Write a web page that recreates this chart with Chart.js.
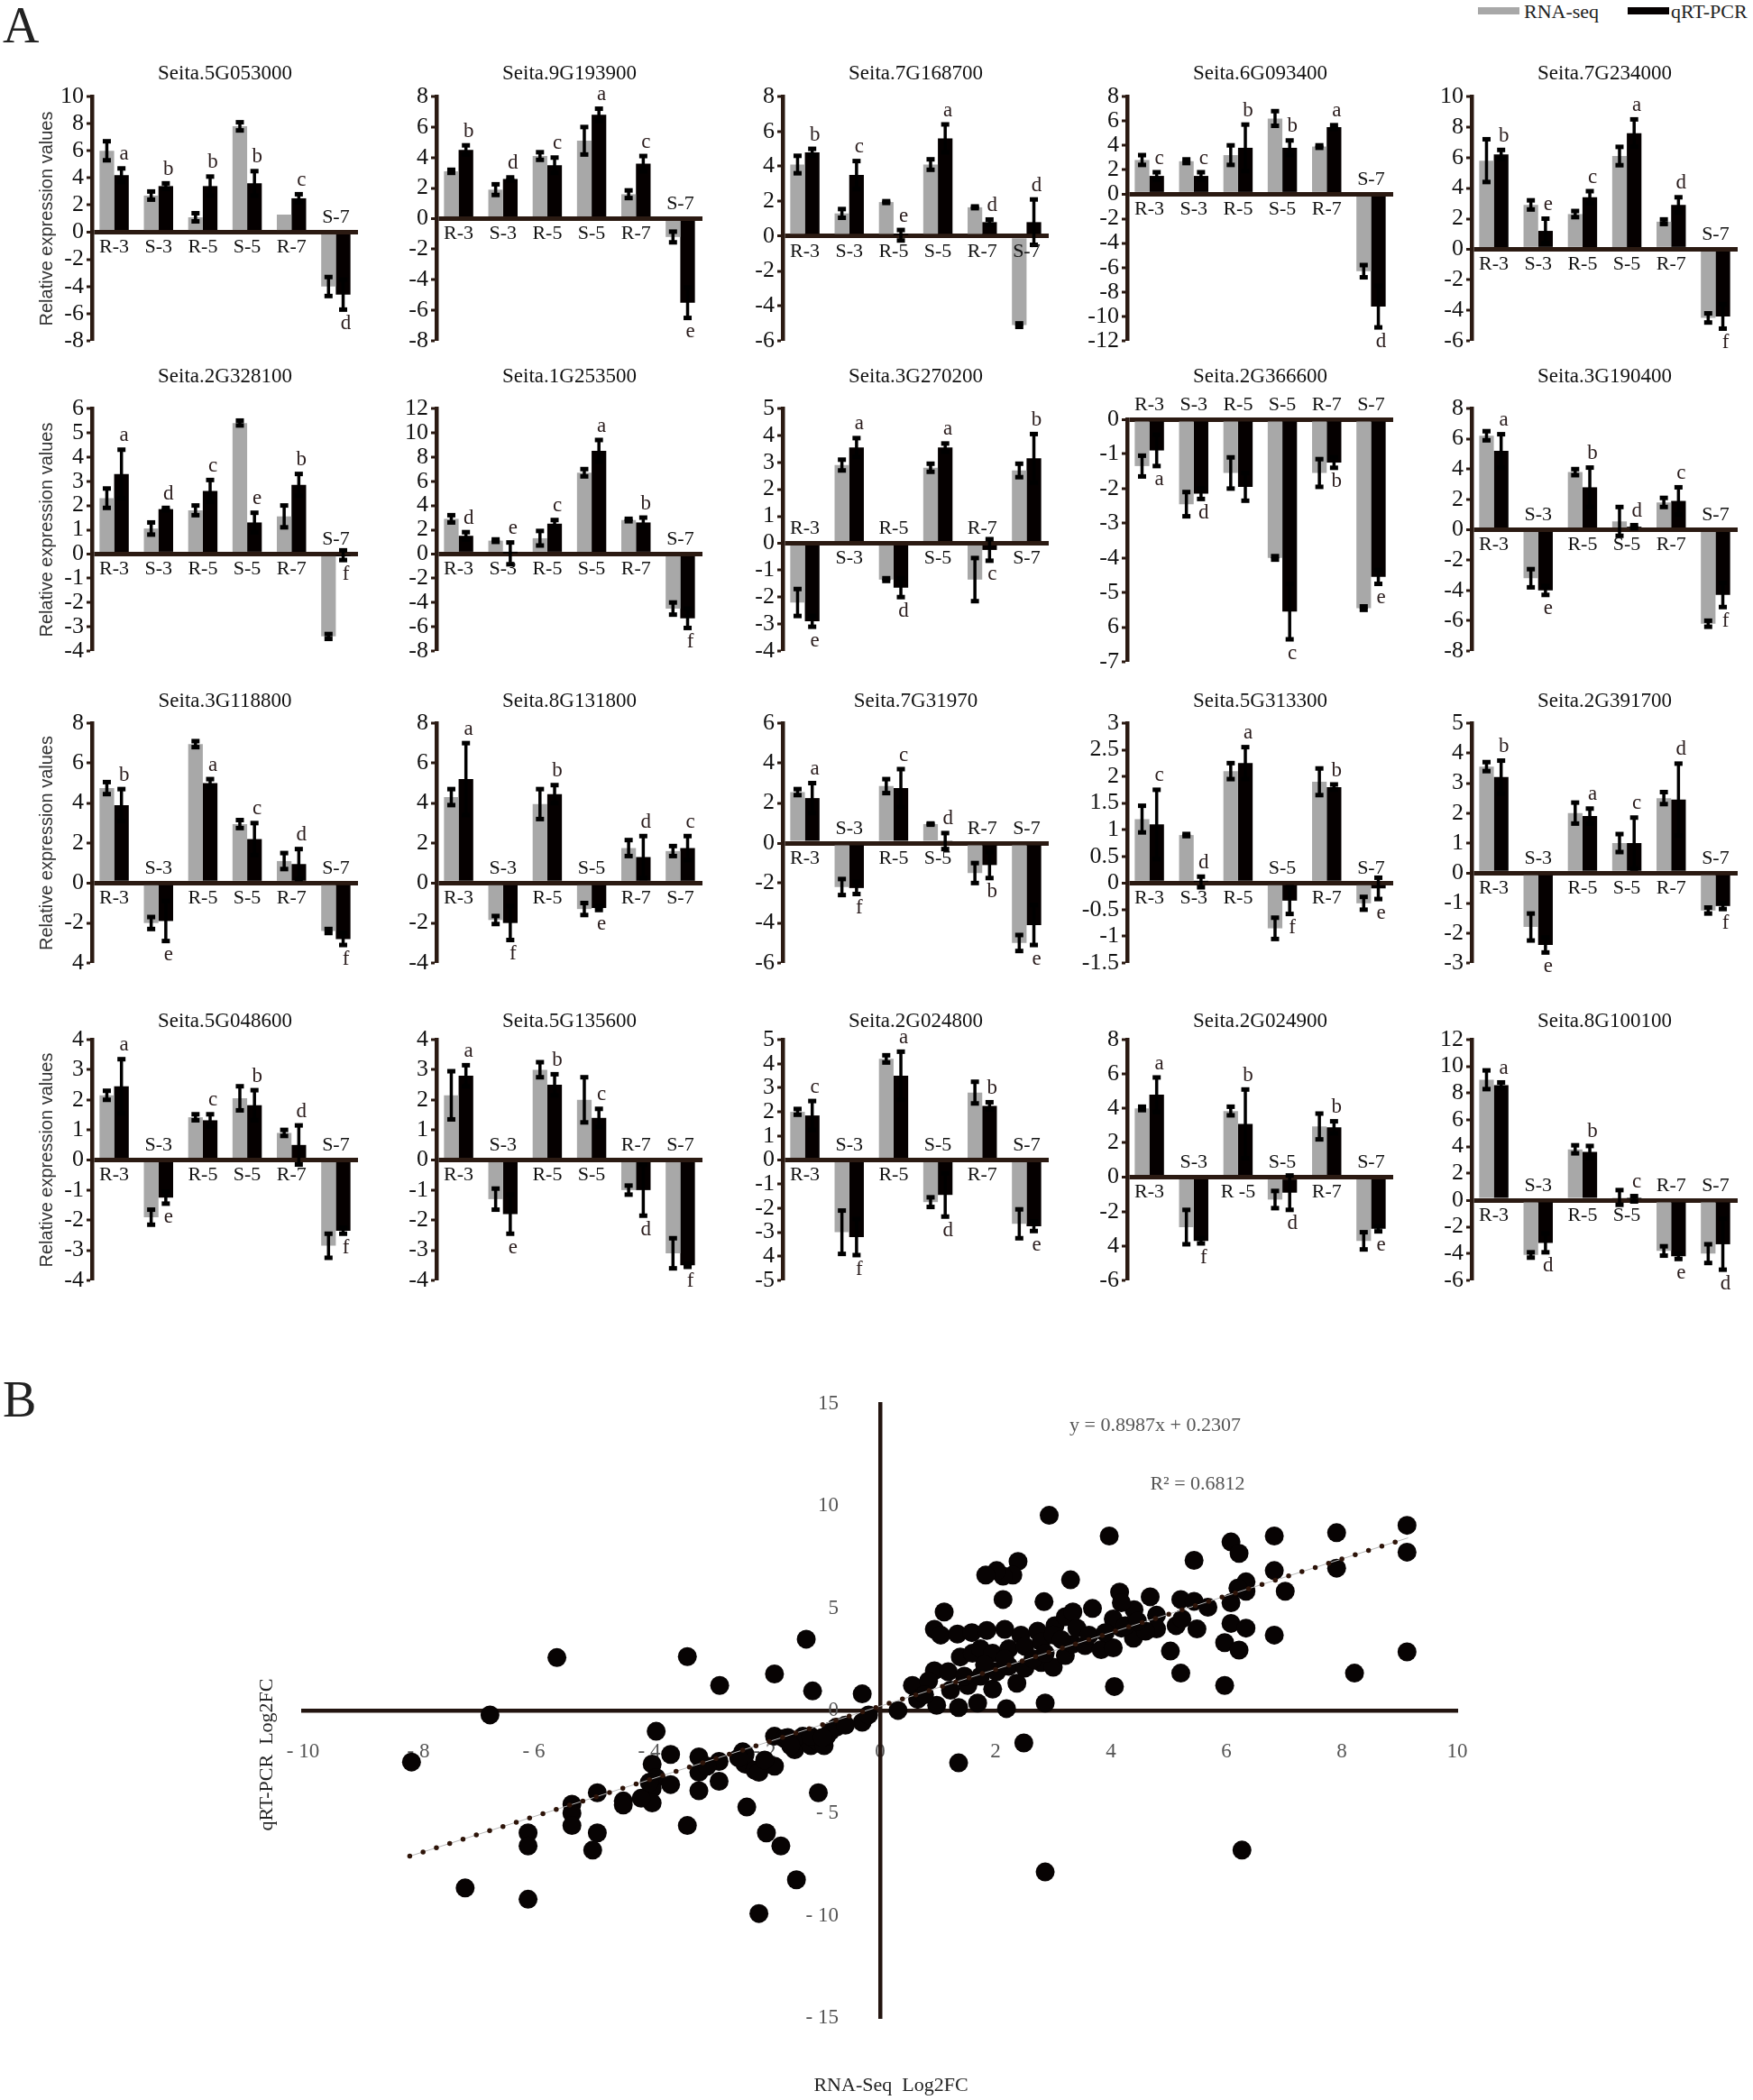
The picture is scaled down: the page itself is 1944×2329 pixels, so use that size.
<!DOCTYPE html>
<html>
<head>
<meta charset="utf-8">
<script src="https://cdn.jsdelivr.net/npm/chart.js@4.4.0/dist/chart.umd.min.js"></script>
<style>
  html, body { margin: 0; padding: 0; background: #fff; }
  #page { position: relative; width: 1944px; height: 2329px; overflow: hidden; background: #fff; }
  #page canvas { position: absolute; }
  .panel { position: absolute; font-family: "Liberation Serif", serif; color: #222; font-size: 56px; line-height: 1; }
  .leg { position: absolute; font-family: "Liberation Serif", serif; font-size: 22px; color: #222; line-height: 1; }
  .sw { position: absolute; height: 8px; width: 46px; }
</style>
</head>
<body>
<div id="page">
  <div class="panel" style="left:3px; top:0px;">A</div>
  <div class="panel" style="left:3px; top:1524px;">B</div>
  <div class="sw" style="left:1639px; top:8px; background:#a8a8a8;"></div>
  <div class="leg" style="left:1690px; top:2px;">RNA-seq</div>
  <div class="sw" style="left:1805px; top:8px; background:#050000;"></div>
  <div class="leg" style="left:1853px; top:2px;">qRT-PCR</div>
</div>
<script>
// ---- data: panel A ----
const categories = ['R-3', 'S-3', 'R-5', 'S-5', 'R-7', 'S-7'];

const genes = [
  'Seita.5G053000', 'Seita.9G193900', 'Seita.7G168700', 'Seita.6G093400', 'Seita.7G234000',
  'Seita.2G328100', 'Seita.1G253500', 'Seita.3G270200', 'Seita.2G366600', 'Seita.3G190400',
  'Seita.3G118800', 'Seita.8G131800', 'Seita.7G31970', 'Seita.5G313300', 'Seita.2G391700',
  'Seita.5G048600', 'Seita.5G135600', 'Seita.2G024800', 'Seita.2G024900', 'Seita.8G100100'
];

const rnaSeq = [
  [6.0, 2.7, 1.1, 7.8, 1.3, -4.0],
  [3.1, 1.9, 4.1, 5.1, 1.6, -1.2],
  [4.1, 1.3, 1.95, 4.1, 1.65, -5.1],
  [2.8, 2.7, 3.2, 6.2, 3.9, -6.3],
  [5.8, 2.9, 2.3, 6.1, 1.8, -4.5],
  [2.3, 1.05, 1.8, 5.4, 1.55, -3.4],
  [2.9, 1.1, 1.3, 6.7, 2.8, -4.5],
  [-2.2, 2.9, -1.35, 2.8, -1.35, 2.7],
  [-1.35, -2.45, -1.55, -4.0, -1.55, -5.45],
  [6.2, -3.2, 3.8, 0.55, 1.8, -6.2],
  [4.75, -2.0, 6.95, 2.95, 1.1, -2.4],
  [4.3, -1.85, 3.95, -1.3, 1.75, 1.6],
  [2.55, -2.2, 2.85, 0.95, -1.5, -5.0],
  [1.2, 0.9, 2.1, -0.85, 1.9, -0.38],
  [3.55, -1.8, 2.0, 1.0, 2.5, -1.25],
  [2.15, -1.9, 1.42, 2.05, 0.9, -2.85],
  [2.15, -1.3, 3.0, 2.0, -1.0, -3.1],
  [2.0, -3.0, 4.2, -1.75, 2.8, -2.65],
  [4.0, -2.9, 3.85, -1.3, 2.95, -3.7],
  [9.0, -4.1, 3.8, 0.2, -3.8, -4.0]
];

const rnaErr = [
  [0.7, 0.3, 0.3, 0.3, 0, 0.7],
  [0.1, 0.35, 0.25, 0.9, 0.25, 0.35],
  [0.5, 0.25, 0.05, 0.3, 0.05, 0.1],
  [0.4, 0.15, 0.8, 0.6, 0.1, 0.5],
  [1.4, 0.3, 0.2, 0.6, 0.15, 0.3],
  [0.4, 0.25, 0.2, 0.1, 0.45, 0.1],
  [0.3, 0.1, 0.6, 0.3, 0.1, 0.5],
  [0.5, 0.2, 0.05, 0.15, 0.8, 0.25],
  [0.3, 0.35, 0.45, 0.05, 0.4, 0.05],
  [0.3, 0.6, 0.2, 0.95, 0.3, 0.2],
  [0.3, 0.3, 0.15, 0.2, 0.4, 0.1],
  [0.4, 0.2, 0.75, 0.3, 0.4, 0.25],
  [0.15, 0.4, 0.35, 0.03, 0.5, 0.4],
  [0.25, 0.02, 0.15, 0.2, 0.25, 0.12],
  [0.15, 0.45, 0.35, 0.3, 0.2, 0.1],
  [0.15, 0.25, 0.1, 0.4, 0.1, 0.4],
  [0.8, 0.35, 0.25, 0.75, 0.15, 0.5],
  [0.12, 0.9, 0.15, 0.2, 0.45, 0.6],
  [0.1, 1.0, 0.25, 0.5, 0.75, 0.5],
  [0.7, 0.2, 0.3, 0.55, 0.35, 0.7]
];

const qpcr = [
  [4.2, 3.4, 3.4, 3.6, 2.5, -4.6],
  [4.5, 2.6, 3.5, 6.8, 3.6, -5.5],
  [4.8, 3.5, 0.05, 5.6, 0.8, 0.8],
  [1.5, 1.5, 3.8, 3.8, 5.5, -9.2],
  [6.2, 1.2, 3.4, 7.6, 2.9, -4.4],
  [3.3, 1.85, 2.6, 1.3, 2.85, -0.05],
  [1.5, 0.05, 2.5, 8.5, 2.6, -5.3],
  [-2.9, 3.55, -1.65, 3.55, -0.25, 3.15],
  [-0.9, -2.15, -1.95, -5.55, -1.25, -4.55],
  [5.2, -4.0, 2.8, 0.2, 1.9, -4.3],
  [3.9, -1.9, 5.0, 2.2, 0.95, -2.8],
  [5.2, -2.0, 4.45, -1.25, 1.3, 1.75],
  [2.25, -2.25, 2.75, 0.1, -1.1, -4.1],
  [1.1, 0.02, 2.25, -0.33, 1.8, -0.1],
  [3.2, -2.4, 1.9, 1.0, 2.45, -1.1],
  [2.45, -1.25, 1.32, 1.82, 0.5, -2.35],
  [2.8, -1.8, 2.5, 1.4, -1.0, -3.5],
  [1.85, -3.2, 3.5, -1.45, 2.25, -2.75],
  [4.8, -3.7, 3.1, -0.9, 2.9, -3.0],
  [8.6, -3.2, 3.6, 0.1, -4.2, -3.3]
];

const qpcrErr = [
  [0.5, 0.2, 0.7, 0.9, 0.3, 1.1],
  [0.3, 0.1, 0.5, 0.4, 0.5, 1.0],
  [0.2, 0.8, 0.3, 0.8, 0.15, 1.3],
  [0.3, 0.3, 1.9, 0.6, 0.15, 1.7],
  [0.3, 0.8, 0.4, 0.9, 0.5, 0.8],
  [1.0, 0.05, 0.45, 0.4, 0.45, 0.2],
  [0.3, 0.9, 0.3, 0.9, 0.4, 0.8],
  [0.2, 0.35, 0.35, 0.15, 0.4, 0.9],
  [0.45, 0.15, 0.4, 0.8, 0.15, 0.2],
  [1.1, 0.3, 1.3, 0.1, 0.9, 0.8],
  [0.8, 1.0, 0.2, 0.8, 0.75, 0.3],
  [1.8, 0.85, 0.45, 0.1, 1.05, 0.6],
  [0.75, 0.3, 0.95, 0.4, 0.65, 1.0],
  [0.65, 0.1, 0.3, 0.25, 0.05, 0.2],
  [0.55, 0.25, 0.25, 0.85, 1.2, 0.1],
  [0.9, 0.2, 0.2, 0.5, 0.65, 0.1],
  [0.35, 0.65, 0.35, 0.3, 0.85, 0.05],
  [0.6, 0.75, 1.0, 0.9, 0.15, 0.2],
  [1.0, 0.15, 2.0, 1.0, 0.35, 0.15],
  [0.2, 0.7, 0.45, 0.2, 0.2, 1.9]
];

// significance letters, one char per category (space = none)
const letters = [
  'abbbcd', 'bdcace', 'bceadd', 'ccbbad', 'becadf',
  'adcebf', 'decabf', 'eadacb', 'ad cbe', 'aebdcf',
  'beacdf', 'afbedc', 'afcdbe', 'cdafbe', 'beacdf',
  'aecbdf', 'aebcdf', 'cfadbe', 'afbdbe', 'adbced'
];

const yMin  = [-8, -8, -6, -12, -6, -4, -8, -4, -7, -8, -4, -4, -6, -1.5, -3, -4, -4, -5, -6, -6];
const yMax  = [10, 8, 8, 8, 10, 6, 12, 5, 0, 8, 8, 8, 6, 3, 5, 4, 4, 5, 8, 12];
const yStep = [2, 2, 2, 2, 2, 1, 2, 1, 1, 2, 2, 2, 2, 0.5, 1, 1, 1, 1, 2, 2];

// tick labels printed without their minus sign in the original figure
const unsignedTick = [null, null, null, null, null, null, null, null, -6, null,
                      -4, null, null, null, null, null, null, -4, -4, null];
// category label printed differently in one panel
const catLabelFix = { 18: { 2: 'R -5' } };

// ---- data: panel B ----
const scatterX = [
  -5.6, -6.76, -8.12, -3.34, -2.78, -1.83, -1.28, -1.17, -0.31, -0.31,
  -3.88, -3.63, -3.95, -3.88, -3.95, -3.95, -4.14, -3.63, -3.14, -3.14,
  -3.14, -2.79, -2.79, -2.38, -2.34, -2.17, -2.1, -1.83, -1.83, -1.66,
  -1.48, -1.48, -1.34, -1.2, -1.1, -0.97, -0.93, -0.86, -0.76, -1.2,
  -1.07, -2.31, -1.97, -1.72, -1.45, -2.1, -3.34, -4.45, -4.45, -4.9,
  -4.9, -4.98, -5.34, -5.34, -5.34, -6.1, -6.1, -6.1, -7.19, -2.34,
  -1.6, -1.0, -0.6, -0.2, -1.55, -2.0, -2.45, -3.0, -4.0,
  2.93, 3.97, 9.13, 9.13, 7.91, 6.83, 6.08, 6.22, 5.44, 6.83,
  7.91, 7.02, 6.34, 6.34, 6.2, 6.08, 6.08, 6.34, 5.97, 6.22,
  6.83, 9.13, 8.22, 5.97, 5.21, 5.03, 5.49, 5.13, 5.23, 5.21,
  5.44, 5.68, 4.68, 4.79, 4.79, 4.4, 4.15, 4.18, 4.18, 4.04,
  3.68, 3.3, 2.84, 2.39, 2.3, 2.13, 2.02, 1.83, 2.13, 1.11,
  0.94, 1.05, 1.34, 1.59, 1.85, 2.16, 2.44, 2.73, 3.03, 3.21,
  3.34, 1.39, 0.94, 1.18, 0.56, 0.65, 0.98, 1.36, 1.69, 2.19,
  2.86, 0.31, 2.49, 1.36, 2.86, 6.27, 4.06, 2.37, 1.95, 1.52,
  1.22, 1.74, 2.02, 2.23, 2.51, 2.79, 3.0, 3.21, 3.34, 3.55,
  3.83, 4.04, 4.39, 4.6, 1.6, 1.74, 1.95, 2.23, 2.51, 2.79,
  3.0, 2.16, 1.81, 1.46, 0.84, 0.77, 2.65, 2.86, 3.14, 3.41,
  3.62, 3.9, 4.25, 4.46
];
const scatterY = [
  2.6, -0.2, -2.5, 2.65, 1.24, 1.8, 3.5, 0.97, 0.83, -0.56,
  -1.0, -2.13, -2.6, -3.26, -3.8, -4.5, -4.27, -3.6, -2.25, -3.0,
  -3.9, -2.47, -3.44, -2.0, -2.6, -2.9, -3.0, -2.7, -1.24, -1.35,
  -1.57, -1.9, -1.24, -1.7, -1.46, -1.7, -1.24, -1.0, -0.8, -1.24,
  -4.0, -4.7, -5.96, -6.6, -8.25, -9.9, -5.6, -4.4, -4.6, -4.0,
  -5.96, -6.8, -4.56, -5.0, -5.6, -5.96, -6.6, -9.2, -8.65, -2.13,
  -1.3, -1.3, -0.7, -0.2, -1.7, -2.4, -2.3, -2.7, -3.5,
  9.55, 8.54, 9.06, 7.75, 8.7, 8.54, 8.25, 7.69, 7.35, 6.85,
  6.97, 5.84, 6.3, 5.84, 6.0, 5.28, 4.27, 4.04, 3.33, 2.97,
  3.7, 2.88, 1.84, 1.24, 1.84, 2.92, 4.0, 4.16, 4.49, 5.44,
  5.35, 5.06, 5.57, 4.67, 4.0, 4.94, 5.8, 5.28, 4.04, 4.49,
  5.0, 6.4, 5.33, 7.3, 6.63, 6.58, 6.85, 6.63, 5.44, 4.83,
  3.98, 3.7, 3.75, 3.82, 3.93, 3.98, 3.7, 3.89, 4.16, 4.6,
  4.83, 2.63, 1.96, 1.91, 1.24, 0.56, 0.27, 0.16, 0.38, 0.11,
  0.38, 0.02, -1.57, -2.54, -7.87, -6.8, 1.19, 1.35, 1.06, 1.24,
  1.01, 1.69, 1.91, 2.18, 2.09, 2.36, 2.13, 2.7, 3.26, 3.19,
  2.99, 3.08, 3.55, 3.89, 2.81, 3.03, 2.81, 3.03, 3.15, 3.37,
  3.71, 2.54, 2.25, 1.69, 1.46, 0.79, 2.54, 2.81, 3.48, 4.04,
  3.7, 3.82, 4.16, 4.38
];
// ends of the fitted line as drawn
const trendX = [-8.15, 9.15];
const trendY = [-7.1, 8.45];

// ---- drawing ----
Chart.defaults.font.family = '"Liberation Serif", serif';
Chart.defaults.color = '#111';

const AXIS = '#2b1a12';
const GRAY = '#a8a8a8';
const BLACK = '#050000';
const page = document.getElementById('page');

function addCanvas(left, top, w, h) {
  const c = document.createElement('canvas');
  c.width = w; c.height = h;
  c.style.left = left + 'px'; c.style.top = top + 'px';
  c.style.width = w + 'px'; c.style.height = h + 'px';
  page.appendChild(c);
  return c;
}

// error bars, letters and category labels sitting on the zero line
const barMarks = {
  id: 'barMarks',
  afterDatasetsDraw(chart, args, opts) {
    const k = opts.k;
    const ctx = chart.ctx;
    const ys = chart.scales.y;
    const xs = chart.scales.x;
    const errs = [rnaErr[k], qpcrErr[k]];
    ctx.save();
    ctx.strokeStyle = '#000';
    ctx.fillStyle = '#000';
    ctx.lineWidth = 3.5;
    [0, 1].forEach(d => {
      const meta = chart.getDatasetMeta(d);
      meta.data.forEach((bar, i) => {
        const v = chart.data.datasets[d].data[i];
        const e = errs[d][i];
        if (!e) return;
        const y1 = ys.getPixelForValue(v + e);
        const y2 = ys.getPixelForValue(v - e);
        ctx.beginPath();
        ctx.moveTo(bar.x, y1);
        ctx.lineTo(bar.x, y2);
        ctx.stroke();
        ctx.fillRect(bar.x - 4.5, y1 - 2.5, 9, 5);
        ctx.fillRect(bar.x - 4.5, y2 - 2.5, 9, 5);
      });
    });

    const zero = ys.getPixelForValue(0);
    const black = chart.getDatasetMeta(1);
    ctx.textAlign = 'center';
    qpcr[k].forEach((v, i) => {
      const cx = xs.getPixelForValue(i);
      let label = categories[i];
      if (catLabelFix[k] && catLabelFix[k][i]) label = catLabelFix[k][i];
      ctx.font = '22px "Liberation Serif"';
      ctx.fillStyle = '#111';
      if (v >= 0) {
        ctx.textBaseline = 'top';
        ctx.fillText(label, cx, zero + 6);
      } else {
        ctx.textBaseline = 'bottom';
        ctx.fillText(label, cx, zero - 5);
      }
      const L = letters[k][i];
      if (L && L.trim()) {
        const bx = black.data[i].x + 3;
        const e = qpcrErr[k][i];
        ctx.font = '23px "Liberation Serif"';
        ctx.fillStyle = '#2b1d1d';
        if (v >= 0) {
          ctx.textBaseline = 'bottom';
          ctx.fillText(L, bx, ys.getPixelForValue(v + e) - 4);
        } else {
          ctx.textBaseline = 'top';
          ctx.fillText(L, bx, ys.getPixelForValue(v - e) + 4);
        }
      }
    });
    ctx.restore();
  }
};

const colAxis = [102, 484, 868, 1250, 1632];
const rowTitle = [82, 418, 778, 1133];
const rowTop = [107, 453, 802, 1153];
const rowBottom = [378, 722, 1068, 1420];
const plotW = 295;

genes.forEach((gene, k) => {
  const r = Math.floor(k / 5);
  const c = k % 5;
  const W = c === 0 ? 66 : 62;
  const left = colAxis[c] - W;
  const top = rowTitle[r] - 14;
  const padBottom = 34;
  const padRight = 14;
  // the all-negative panel sits a little lower so its labels clear the title
  const shift = yMax[k] === 0 ? 12 : 0;
  const titlePad = rowTop[r] + shift - top - 27.6;
  const canvas = addCanvas(left, top, W + plotW + padRight, rowBottom[r] + shift - top + padBottom);

  new Chart(canvas, {
    type: 'bar',
    data: {
      labels: categories,
      datasets: [
        { label: 'RNA-seq', data: rnaSeq[k], backgroundColor: GRAY, borderWidth: 0 },
        { label: 'qRT-PCR', data: qpcr[k], backgroundColor: BLACK, borderWidth: 0 }
      ]
    },
    options: {
      responsive: false,
      animation: false,
      devicePixelRatio: 1,
      layout: { padding: { left: 0, right: padRight, top: 0, bottom: padBottom } },
      datasets: { bar: { barPercentage: 1.0, categoryPercentage: 0.66 } },
      plugins: {
        legend: { display: false },
        tooltip: { enabled: false },
        title: {
          display: true,
          text: gene,
          fullSize: false,
          color: '#111',
          font: { size: 23, weight: 'normal', lineHeight: 1.2 },
          padding: { top: 0, bottom: titlePad }
        },
        barMarks: { k }
      },
      scales: {
        x: { display: false, offset: true },
        y: {
          min: yMin[k],
          max: yMax[k],
          afterFit: s => { s.width = W; },
          border: { display: true, color: AXIS, width: 4.5 },
          grid: {
            drawOnChartArea: true,
            drawTicks: true,
            tickLength: 6,
            tickWidth: 3,
            tickColor: AXIS,
            color: ctx => (ctx.tick && ctx.tick.value === 0) ? AXIS : 'rgba(0,0,0,0)',
            lineWidth: ctx => (ctx.tick && ctx.tick.value === 0) ? 5 : 0
          },
          ticks: {
            stepSize: yStep[k],
            autoSkip: false,
            padding: 3,
            color: '#111',
            font: { size: 26 },
            callback: v => (unsignedTick[k] !== null && v === unsignedTick[k]) ? String(-v) : String(v)
          },
          title: {
            display: c === 0,
            text: 'Relative expression values',
            color: '#333',
            font: { family: '"Liberation Sans", sans-serif', size: 20 },
            padding: { top: 4, bottom: 0 }
          }
        }
      }
    },
    plugins: [barMarks]
  });
});

// ---- panel B ----
const scatterText = {
  id: 'scatterText',
  afterDraw(chart) {
    const ctx = chart.ctx;
    const ox = chart.canvas.offsetLeft;
    const oy = chart.canvas.offsetTop;
    ctx.save();
    ctx.textAlign = 'center';
    ctx.textBaseline = 'middle';
    ctx.font = '22px "Liberation Serif"';
    ctx.fillStyle = '#555';
    ctx.fillText('y = 0.8987x + 0.2307', 1281 - ox, 1581 - oy);
    ctx.fillText('R\u00b2 = 0.6812', 1328 - ox, 1646 - oy);
    ctx.fillStyle = '#222';
    ctx.fillText('RNA-Seq  Log2FC', 988 - ox, 2313 - oy);
    ctx.translate(296 - ox, 1946 - oy);
    ctx.rotate(-Math.PI / 2);
    ctx.fillText('qRT-PCR  Log2FC', 0, 0);
    ctx.restore();
  }
};

const signed = v => (v < 0 ? '- ' + (-v) : String(v));
const sLeft = 240, sTop = 1540;
const sCanvas = addCanvas(sLeft, sTop, 1440, 2329 - sTop);

new Chart(sCanvas, {
  type: 'scatter',
  data: {
    datasets: [
      {
        data: scatterX.map((x, i) => ({ x, y: scatterY[i] })),
        pointRadius: 10.5,
        backgroundColor: '#070303',
        borderWidth: 0,
        order: 2
      },
      {
        data: trendX.map((x, i) => ({ x, y: trendY[i] })),
        showLine: true,
        borderColor: '#b8b8b8',
        borderWidth: 1,
        pointRadius: 0,
        order: 1
      },
      {
        data: trendX.map((x, i) => ({ x, y: trendY[i] })),
        showLine: true,
        borderColor: '#2e1409',
        borderWidth: 5.5,
        borderDash: [0, 15.5],
        borderCapStyle: 'round',
        pointRadius: 0,
        order: 0
      }
    ]
  },
  options: {
    responsive: false,
    animation: false,
    devicePixelRatio: 1,
    layout: { padding: { left: 96, right: 64, top: 2, bottom: 91 } },
    plugins: { legend: { display: false }, tooltip: { enabled: false } },
    scales: {
      x: {
        type: 'linear',
        min: -10,
        max: 10,
        position: { y: 0 },
        grid: { display: false, drawTicks: false },
        border: { display: true, color: '#231510', width: 4.5 },
        ticks: { stepSize: 2, padding: 32, color: '#555', font: { size: 23 }, maxRotation: 0, autoSkip: false, callback: signed }
      },
      y: {
        type: 'linear',
        min: -15,
        max: 15,
        position: { x: 0 },
        grid: { display: false, drawTicks: false },
        border: { display: true, color: '#231510', width: 4.5 },
        // labels of an axis placed at x = 0 ignore padding, so trailing spaces keep them off the line
        ticks: { stepSize: 5, autoSkip: false, color: '#555', font: { size: 23 }, callback: v => signed(v) + '\u2002\u2002\u2002\u2002' }
      }
    }
  },
  plugins: [scatterText]
});
</script>
</body>
</html>
